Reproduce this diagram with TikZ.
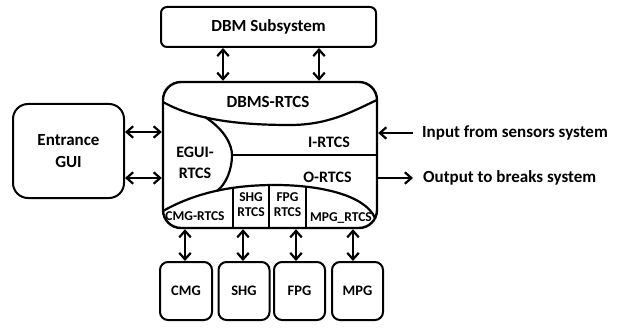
\documentclass[tikz,border=0pt]{standalone}
\usepackage{fontspec}
\setmainfont{Carlito}
\usetikzlibrary{arrows.meta}
\begin{document}
\begin{tikzpicture}[x=1pt,y=-1pt,
  box/.style={draw,line width=2pt,align=center,inner sep=0pt,font=\bfseries\fontsize{17}{22}\selectfont},
  lbl/.style={align=center,inner sep=0pt,font=\bfseries\fontsize{16}{19}\selectfont},
  small/.style={align=center,inner sep=0pt,font=\bfseries\fontsize{13.5}{15}\selectfont},
  side/.style={anchor=west,inner sep=0pt,font=\bfseries\fontsize{17}{19}\selectfont},
  part/.style={line width=2.2pt},
  tip/.tip={Straight Barb[length=6.5pt,width=11.5pt]},
  link/.style={line width=2.2pt,tip-tip},
  oneway/.style={line width=2.2pt,-tip}]
\useasboundingbox (0,0) rectangle (617,331);
% boxes
\node[box,rounded corners=6pt,minimum width=215pt,minimum height=40pt] (dbm) at (268.5,27) {DBM Subsystem};
\node[box,rounded corners=15pt,minimum width=111pt,minimum height=94pt] (gui) at (68.5,151) {Entrance\\GUI};
\node[draw,line width=2.4pt,rounded corners=18pt,minimum width=214pt,minimum height=146pt] (main) at (270,155) {};
\node[box,font=\bfseries\fontsize{14.5}{17}\selectfont,rounded corners=8pt,minimum width=52pt,minimum height=58pt] (cmg) at (186,291) {CMG};
\node[box,font=\bfseries\fontsize{14.5}{17}\selectfont,rounded corners=8pt,minimum width=51pt,minimum height=58pt] (shg) at (244,291) {SHG};
\node[box,font=\bfseries\fontsize{14.5}{17}\selectfont,rounded corners=8pt,minimum width=51pt,minimum height=58pt] (fpg) at (299.5,291) {FPG};
\node[box,font=\bfseries\fontsize{14.5}{17}\selectfont,rounded corners=8pt,minimum width=51pt,minimum height=58pt] (mpg) at (357.5,291) {MPG};
% inner partitions
\draw[part] (163,102) .. controls (195,120) and (240,125) .. (290,125)
                      .. controls (330,125) and (355,110) .. (377,100);
\draw[part] (205,117) .. controls (225,130) and (232,145) .. (232,155)
                      .. controls (232,170) and (226,184) .. (217,191);
\draw[part] (232,155) -- (main.east |- 0,155);
\draw[part] (163,211) .. controls (200,190) and (240,185) .. (275,185)
                      .. controls (320,185) and (365,195) .. (375,218);
\begin{scope}
  \clip (163,211) .. controls (200,190) and (240,185) .. (275,185)
                  .. controls (320,185) and (365,195) .. (375,218) -- (377,230) -- (163,230) -- cycle;
  \draw[part] (233,180) -- (233,229);
  \draw[part] (269,180) -- (269,229);
  \draw[part] (306,180) -- (306,229);
\end{scope}
% labels
\node[lbl,font=\bfseries\fontsize{17}{19}\selectfont] (dbms) at (268,102) {DBMS-RTCS};
\node[lbl] (irtcs) at (329,142) {I-RTCS};
\node[lbl] (ortcs) at (327.5,177) {O-RTCS};
\node[lbl,font=\bfseries\fontsize{16}{21}\selectfont] (egui) at (195,163) {EGUI-\\RTCS};
\node[small] (cmgr) at (195,216) {CMG-RTCS};
\node[small] (shgr) at (251,205) {SHG\\RTCS};
\node[small] (fpgr) at (287.5,205) {FPG\\RTCS};
\node[small] (mpgr) at (341,218) {MPG\_RTCS};
% connector positions
\coordinate (t1) at (223,0);
\coordinate (t2) at (319,0);
\coordinate (l1) at (0,132);
\coordinate (l2) at (0,178);
\coordinate (b1) at (185,0);
\coordinate (b2) at (243,0);
\coordinate (b3) at (296,0);
\coordinate (b4) at (353,0);
\coordinate (ins) at (413,133);
\coordinate (outs) at (413,178);
% connectors
\draw[link] (dbm.south -| t1) -- (main.north -| t1);
\draw[link] (dbm.south -| t2) -- (main.north -| t2);
\draw[link] (gui.east |- l1) -- (main.west |- l1);
\draw[link] (gui.east |- l2) -- (main.west |- l2);
\draw[link] (main.south -| b1) -- (cmg.north -| b1);
\draw[link] (main.south -| b2) -- (shg.north -| b2);
\draw[link] (main.south -| b3) -- (fpg.north -| b3);
\draw[link] (main.south -| b4) -- (mpg.north -| b4);
\draw[oneway] (ins) -- (main.east |- ins);
\draw[oneway] (main.east |- outs) -- (outs);
\node[side] (intext) at (422,133) {Input from sensors system};
\node[side] (outtext) at (423,178) {Output to breaks system};
\end{tikzpicture}
\end{document}
